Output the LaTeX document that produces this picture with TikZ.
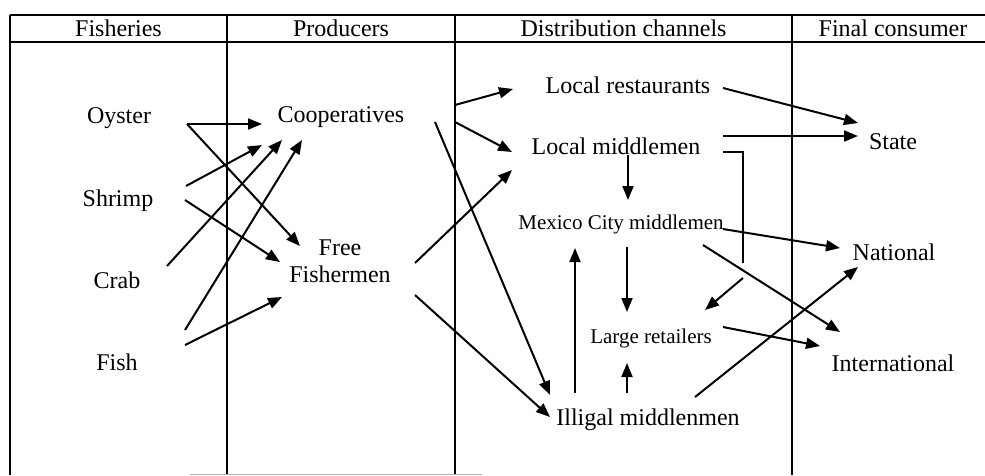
\documentclass[tikz,border=0pt]{standalone}
\usepackage{fontspec}
\setmainfont{Liberation Serif}
\usetikzlibrary{arrows.meta}
\tikzset{
  lbl/.style={inner sep=0pt,text height=16pt,text depth=0pt,font=\fontsize{24}{27}\selectfont},
  sml/.style={lbl,text height=14pt,font=\fontsize{21}{24}\selectfont},
  hd/.style={anchor=base,inner sep=0pt,font=\fontsize{24}{27}\selectfont},
  rule/.style={line width=1.8pt},
  arr/.style={line width=2pt,-{Triangle[length=14pt,width=11pt]}},
}
\begin{document}
\begin{tikzpicture}[x=1pt,y=-1pt]
\useasboundingbox(0,0)rectangle(985,475);
\pgfmathsetmacro{\ca}{10}
\pgfmathsetmacro{\cb}{227}
\pgfmathsetmacro{\cc}{455}
\pgfmathsetmacro{\cd}{792}
%
\draw[rule](\ca,15)--(985,15);
\draw[rule](\ca,42)--(985,42);
\foreach \c in {\ca,\cb,\cc,\cd}
  \draw[rule](\c,15)--(\c,475);
\draw[gray!60,line width=1pt](190,474)--(482,474);
%
\node[hd](hfish)at(118.5,36){Fisheries};
\node[hd](hprod)at(341,36){Producers};
\node[hd](hdist)at(623.5,36){Distribution channels};
\node[hd](hcons)at(893,36){Final consumer};
%
\node[lbl](oyster)at(119,115){Oyster};
\node[lbl](shrimp)at(118,198){Shrimp};
\node[lbl](crab)at(117,280){Crab};
\node[lbl](fish)at(117,362){Fish};
\node[lbl](coop)at(341,114){Cooperatives};
\node[inner sep=0pt,anchor=north,align=center,font=\fontsize{24}{27}\selectfont](free)at(340,240){Free\\Fishermen};
\node[lbl](lrest)at(628,85){Local restaurants};
\node[lbl](lmid)at(616,146){Local middlemen};
\node[sml](mex)at(621,222){Mexico City middlemen};
\node[sml](lret)at(651,336){Large retailers};
\node[lbl](ill)at(648,417){Illigal middlenmen};
\node[lbl](state)at(893,141){State};
\node[lbl](nat)at(894,252){National};
\node[lbl](intl)at(893,363){International};
%
\draw[arr]([shift={(68,9)}]oyster.center)--([shift={(-79,10)}]coop.center);
\draw[arr]([shift={(68,9)}]oyster.center)--([shift={(-40,6)}]free.north);
\draw[arr]([shift={(68,-12)}]shrimp.center)--([shift={(-79,31)}]coop.center);
\draw[arr]([shift={(67,2)}]shrimp.center)--([shift={(-60,22)}]free.north);
\draw[arr]([shift={(50,-14)}]crab.center)--([shift={(-59,26)}]coop.center);
\draw[arr]([shift={(68,-32)}]fish.center)--([shift={(-39,26)}]coop.center);
\draw[arr]([shift={(68,-17)}]fish.center)--([shift={(-58,57)}]free.north);
%
\draw[arr]([shift={(114,-9)}]coop.center)--([shift={(-115,4)}]lrest.center);
\draw[arr]([shift={(114,8)}]coop.center)--([shift={(-104,6)}]lmid.center);
\draw[arr]([shift={(94,8)}]coop.center)--([shift={(-98,-22)}]ill.center);
\draw[arr]([shift={(75,23)}]free.north)--([shift={(-104,24)}]lmid.center);
\draw[arr]([shift={(75,55)}]free.north)--([shift={(-98,0)}]ill.center);
%
\draw[arr]([shift={(12,9)}]lmid.center)--([shift={(7,-22)}]mex.center);
\draw[arr]([shift={(6,25)}]mex.center)--([shift={(-24,-24)}]lret.center);
\draw[arr]([shift={(-21,-24)}]ill.center)--([shift={(-24,27)}]lret.center);
\draw[arr]([shift={(-73,-24)}]ill.center)--([shift={(-46,26)}]mex.center);
\coordinate(brk)at(743,263);
\draw[line width=2pt]([shift={(107,6)}]lmid.center)-|(brk);
\draw[arr]([yshift=-15pt]brk)--([shift={(54,-26)}]lret.center);
%
\draw[arr]([shift={(95,3)}]lrest.center)--([shift={(-35,-18)}]state.center);
\draw[arr]([shift={(107,-10)}]lmid.center)--([shift={(-35,-5)}]state.center);
\draw[arr]([shift={(102,7)}]mex.center)--([shift={(-54,-4)}]nat.center);
\draw[arr]([shift={(82,23)}]mex.center)--([shift={(-53,-31)}]intl.center);
\draw[arr]([shift={(72,-9)}]lret.center)--([shift={(-73,-17)}]intl.center);
\draw[arr]([shift={(47,-20)}]ill.center)--([shift={(-36,15)}]nat.center);
\end{tikzpicture}
\end{document}
